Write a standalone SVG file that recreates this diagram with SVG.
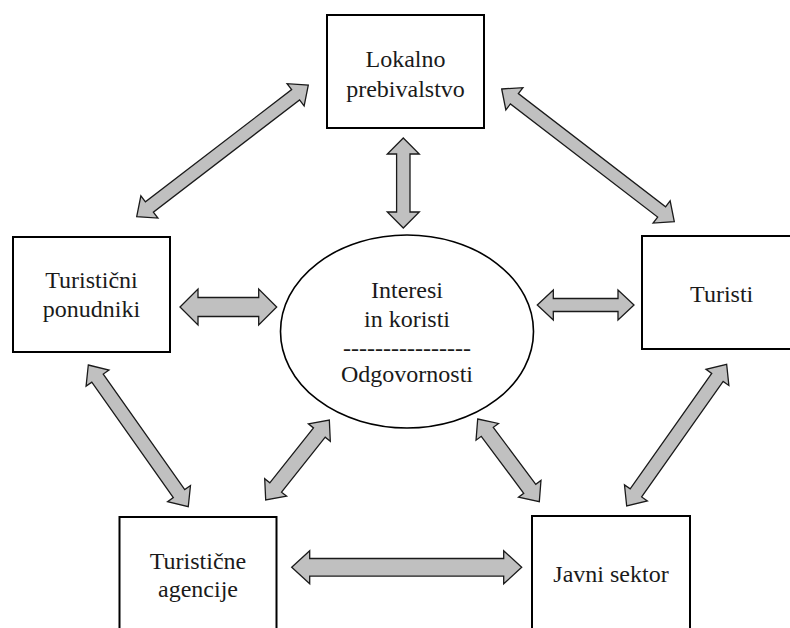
<svg xmlns="http://www.w3.org/2000/svg" width="790" height="628" viewBox="0 0 790 628">
<style>
.box{fill:#fff;stroke:#000;stroke-width:2}
.ell{fill:#fff;stroke:#000;stroke-width:1.6}
.arr{fill:#c0c0c0;stroke:#1a1a1a;stroke-width:1.3;stroke-linejoin:miter}
.t{font-family:'Liberation Serif','Times New Roman',serif;font-size:24px;fill:#1a1a1a;text-anchor:middle}
</style>
<rect width="790" height="628" fill="#fff"/>
<g id="lokalno">
<rect class="box" x="327" y="15" width="157" height="113"/>
<text class="t" x="405.5" y="67">Lokalno</text>
<text class="t" x="405.5" y="97">prebivalstvo</text>
</g>
<g id="ponudniki">
<rect class="box" x="13" y="237" width="157" height="115"/>
<text class="t" x="91.5" y="288">Turistični</text>
<text class="t" x="91.5" y="317">ponudniki</text>
</g>
<g id="turisti">
<rect class="box" x="642" y="236" width="160" height="113"/>
<text class="t" x="721.7" y="302">Turisti</text>
</g>
<g id="agencije">
<rect class="box" x="119.5" y="517" width="157" height="130"/>
<text class="t" x="198" y="569">Turistične</text>
<text class="t" x="198" y="597">agencije</text>
</g>
<g id="javni">
<rect class="box" x="532" y="516" width="158" height="130"/>
<text class="t" x="611" y="582">Javni sektor</text>
</g>
<g id="center">
<ellipse class="ell" cx="407" cy="331.5" rx="126.5" ry="96.5"/>
<text class="t" x="407" y="298">Interesi</text>
<text class="t" x="407" y="327">in koristi</text>
<text class="t" x="407" y="356">----------------</text>
<text class="t" x="407" y="382">Odgovornosti</text>
</g>
<g id="connectors">
<polygon class="arr" transform="translate(136.7,216.7) rotate(-37.5)" points="0,0 16,-14 16,-6.5 200.3,-6.5 200.3,-14 216.3,0 200.3,14 200.3,6.5 16,6.5 16,14"/>
<polygon class="arr" transform="translate(501.7,89) rotate(37.55)" points="0,0 16,-14 16,-6.5 201.7,-6.5 201.7,-14 217.7,0 201.7,14 201.7,6.5 16,6.5 16,14"/>
<polygon class="arr" transform="translate(403.3,138) rotate(90)" points="0,0 16,-16 16,-6.7 74,-6.7 74,-16 90,0 74,16 74,6.7 16,6.7 16,16"/>
<polygon class="arr" transform="translate(180,307)" points="0,0 18,-18 18,-9.5 78.7,-9.5 78.7,-18 96.7,0 78.7,18 78.7,9.5 18,9.5 18,18"/>
<polygon class="arr" transform="translate(537.3,305)" points="0,0 16,-15 16,-6.5 80.7,-6.5 80.7,-15 96.7,0 80.7,15 80.7,6.5 16,6.5 16,15"/>
<polygon class="arr" transform="translate(291.7,567.3)" points="0,0 18,-16.5 18,-8.8 212,-8.8 212,-16.5 230,0 212,16.5 212,8.8 18,8.8 18,16.5"/>
<polygon class="arr" transform="translate(88.3,365) rotate(54.8)" points="0,0 16,-14 16,-7 157.4,-7 157.4,-14 173.4,0 157.4,14 157.4,7 16,7 16,14"/>
<polygon class="arr" transform="translate(265.7,500) rotate(-51.5)" points="0,0 16,-14 16,-7.5 86.2,-7.5 86.2,-14 102.2,0 86.2,14 86.2,7.5 16,7.5 16,14"/>
<polygon class="arr" transform="translate(477.7,419) rotate(53.3)" points="0,0 16,-14 16,-7.5 87.1,-7.5 87.1,-14 103.1,0 87.1,14 87.1,7.5 16,7.5 16,14"/>
<polygon class="arr" transform="translate(626.7,506) rotate(-54.8)" points="0,0 16,-14 16,-7 157.4,-7 157.4,-14 173.4,0 157.4,14 157.4,7 16,7 16,14"/>
</g>
</svg>
